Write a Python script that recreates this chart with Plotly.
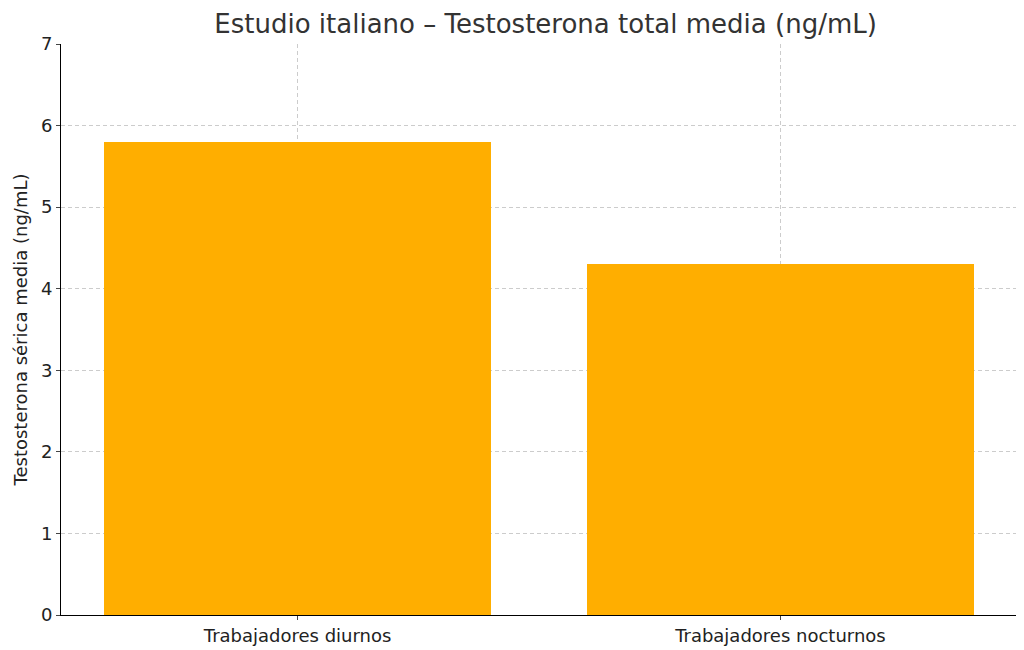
import plotly.graph_objs as go

categories = ["Trabajadores diurnos", "Trabajadores nocturnos"]
testosterona = [5.8, 4.3]

trace = go.Bar(x=[0, 1], y=testosterona, width=0.8, marker=dict(color="#FFAE00", line=dict(width=0)))

layout = go.Layout(
    title=dict(text="Estudio italiano – Testosterona total media (ng/mL)", x=0.525, y=0.99,
               xanchor="center", yanchor="top", font=dict(size=26, color="#333333")),
    width=1024, height=650,
    margin=dict(l=53, r=15, t=36, b=32),
    paper_bgcolor="white", plot_bgcolor="white",
    font=dict(family="DejaVu Sans", size=18, color="#222222"),
    xaxis=dict(range=[-0.49, 1.49], tickvals=[0, 1], ticktext=categories,
               tickfont=dict(size=18, color="#222222"),
               showgrid=True, gridcolor="#cccccc", griddash="4px,3px", gridwidth=1,
               showline=True, linecolor="black", ticks="outside", ticklen=4, zeroline=False),
    yaxis=dict(range=[0, 7], dtick=1,
               title=dict(text="Testosterona sérica media (ng/mL)", standoff=8, font=dict(size=18)),
               tickfont=dict(size=18, color="#222222"),
               showgrid=True, gridcolor="#cccccc", griddash="4px,3px", gridwidth=1,
               showline=True, linecolor="black", ticks="outside", ticklen=4, zeroline=False),
    bargap=0,
)

fig = go.Figure(data=[trace], layout=layout)
fig.write_html("out.html")
